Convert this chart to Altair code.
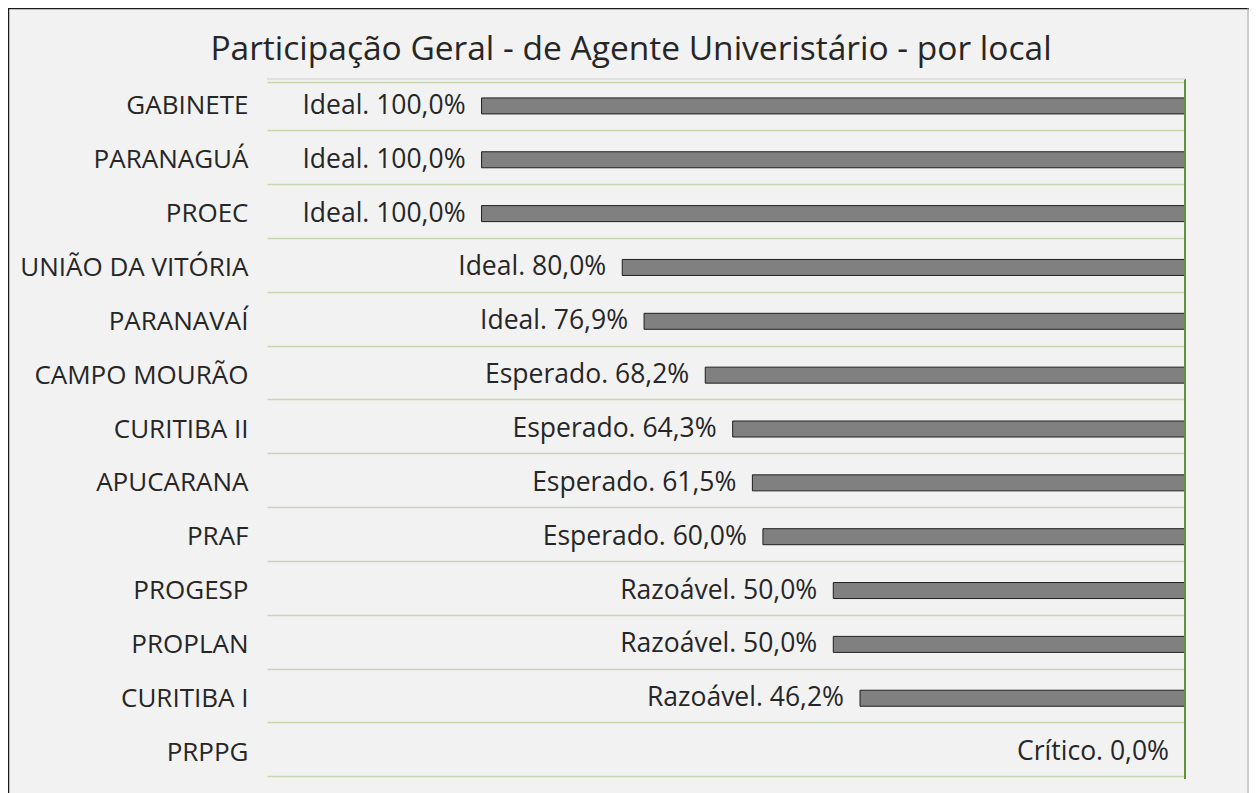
import altair as alt
import pandas as pd

locais = ["GABINETE", "PARANAGUÁ", "PROEC", "UNIÃO DA VITÓRIA", "PARANAVAÍ",
          "CAMPO MOURÃO", "CURITIBA II", "APUCARANA", "PRAF", "PROGESP",
          "PROPLAN", "CURITIBA I", "PRPPG"]
valores = [100.0, 100.0, 100.0, 80.0, 76.9, 68.2, 64.3, 61.5, 60.0, 50.0, 50.0, 46.2, 0.0]
niveis = ["Ideal", "Ideal", "Ideal", "Ideal", "Ideal", "Esperado", "Esperado",
          "Esperado", "Esperado", "Razoável", "Razoável", "Razoável", "Crítico"]
titulo = "Participação Geral - de Agente Univeristário - por local"

df = pd.DataFrame({"local": locais, "valor": valores, "nivel": niveis})
df["rotulo"] = [f"{n}. " + f"{v:.1f}".replace(".", ",") + "%" for n, v in zip(niveis, valores)]

FONT = "Open Sans"
TXT = "#262626"
W, H = 918, 700
PAD_L, PAD_T, PAD_R, PAD_B = 259, 71, 64, 20

y_enc = alt.Y("local:N", sort=locais, title=None,
              axis=alt.Axis(domain=False, ticks=False, grid=True, tickBand="extent",
                            gridColor="#c5d6b3", gridWidth=1.5,
                            labelFont=FONT, labelFontSize=26, labelColor=TXT,
                            labelPadding=19, labelLimit=0))
x_enc = alt.X("valor:Q", scale=alt.Scale(domain=[0, 130.5], reverse=True, nice=False), axis=None)

base = alt.Chart(df)
bars = base.mark_bar(size=16, color="#808080", stroke="#1f1f1f", strokeWidth=1).encode(y=y_enc, x=x_enc)
texts = base.mark_text(align="right", baseline="middle", dx=-16, font=FONT, fontSize=26.5, color=TXT).encode(
    y=alt.Y("local:N", sort=locais), x=alt.X("valor:Q"), text="rotulo:N")

one = alt.Chart(alt.Data(values=[{"t": titulo}]))
title_mark = one.mark_text(align="center", baseline="alphabetic", font=FONT, fontSize=33.5, color=TXT).encode(
    x=alt.value(364), y=alt.value(-19), text="t:N")
vline = one.mark_rule(color="#5f9338", strokeWidth=2).encode(x=alt.value(W), y=alt.value(0), y2=alt.value(H))
topline = one.mark_rule(color="#d9d9d9", strokeWidth=1.5).encode(x=alt.value(0), x2=alt.value(W), y=alt.value(0))
b_top = one.mark_rule(color="#1a1a1a", strokeWidth=1.5).encode(x=alt.value(-PAD_L), x2=alt.value(W + PAD_R), y=alt.value(-PAD_T + 0.5))
b_left = one.mark_rule(color="#1a1a1a", strokeWidth=1.5).encode(x=alt.value(-PAD_L + 0.5), y=alt.value(-PAD_T), y2=alt.value(H + PAD_B))
b_right = one.mark_rule(color="#a6a6a6", strokeWidth=1).encode(x=alt.value(W + PAD_R - 1), y=alt.value(-PAD_T), y2=alt.value(H + PAD_B))

chart = alt.layer(bars, texts, vline, topline, title_mark, b_top, b_left, b_right).properties(
    width=W, height=H,
    autosize=alt.AutoSizeParams(type="none"),
    padding={"left": PAD_L, "top": PAD_T, "right": PAD_R, "bottom": PAD_B},
).configure(background="#f2f2f2").configure_view(stroke=None)

chart.save("out.html", embed_options={"renderer": "svg", "actions": False})
